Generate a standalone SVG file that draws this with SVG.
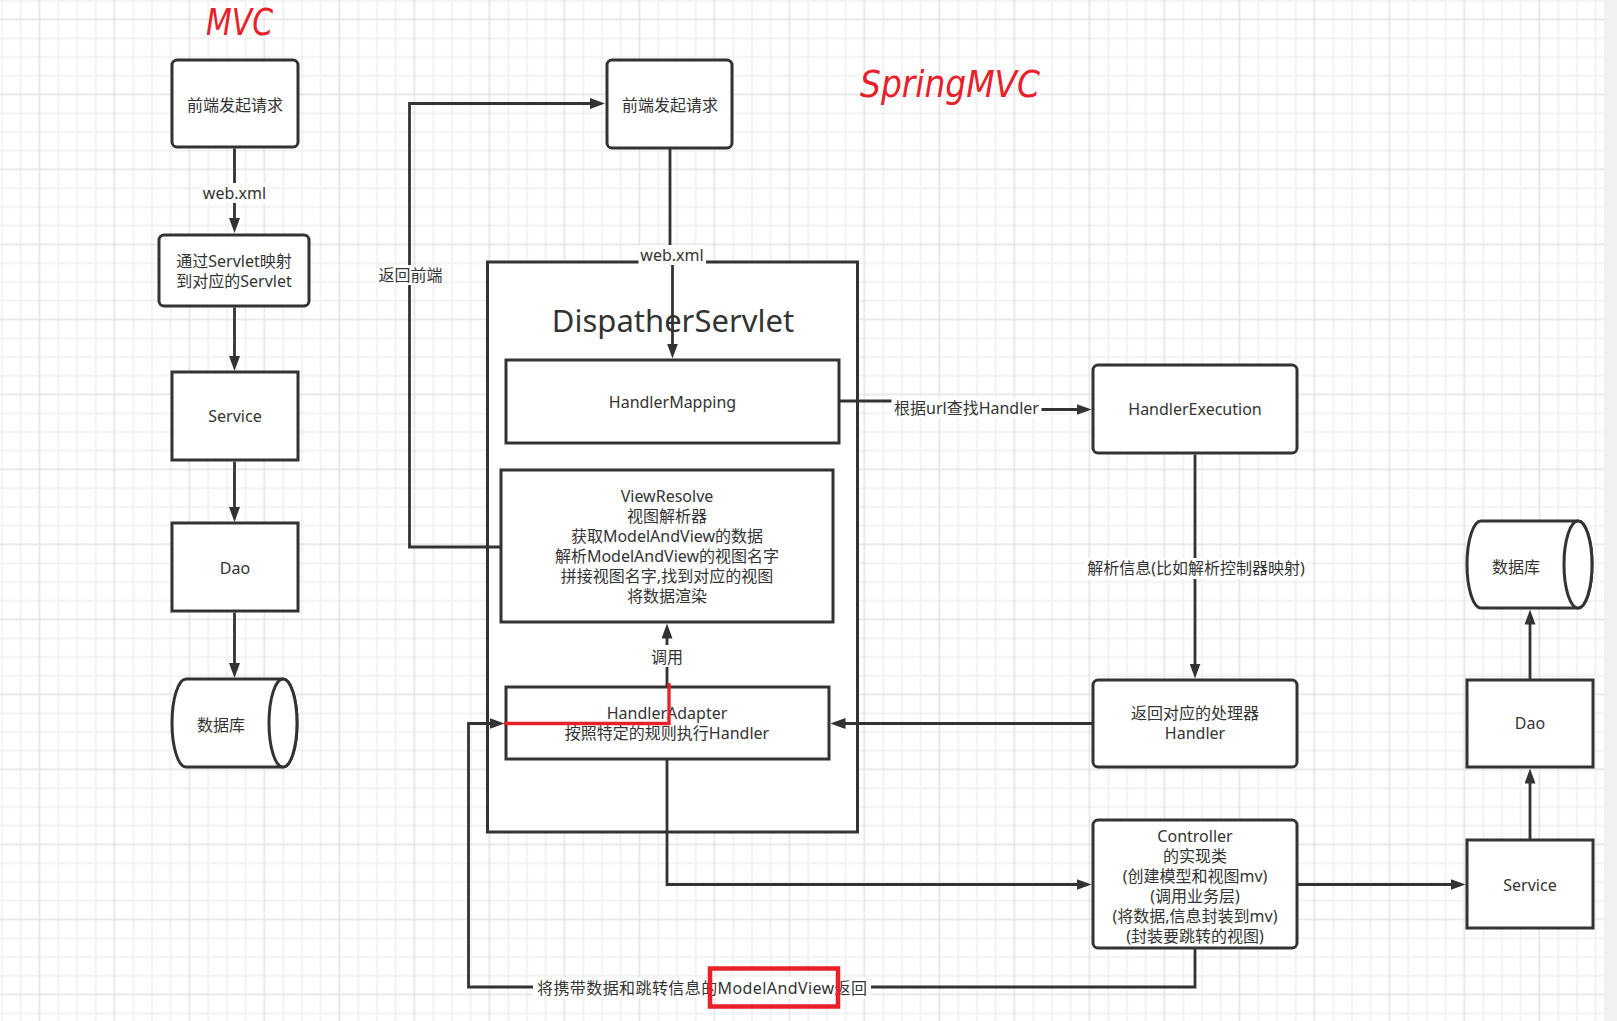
<svg xmlns="http://www.w3.org/2000/svg" width="1617" height="1021" viewBox="0 0 1617 1021">
  <style>
    .t { font-family: 'Noto Sans', 'Noto Sans CJK SC', sans-serif; font-size: 16px; fill: #333; text-anchor: middle; }
    .title { font-family: 'Noto Sans', 'Noto Sans CJK SC', sans-serif; font-size: 31px; fill: #333; text-anchor: middle; }
    .box { fill: #fff; stroke: #333; stroke-width: 3; }
    .edge { fill: none; stroke: #333; stroke-width: 2.8; }
    .lbl { fill: #fff; }
    .hand { font-family: 'DejaVu Sans', sans-serif; font-style: italic; font-weight: 300; fill: #e8202a; }
    .red { fill: none; stroke: #e8202a; }
  </style>
  <defs>
    <pattern id="grid" x="38.5" y="18.5" width="75" height="75" patternUnits="userSpaceOnUse">
      <rect x="18.75" y="0" width="2" height="75" fill="#f1f1f1"/>
      <rect x="37.5" y="0" width="2" height="75" fill="#f1f1f1"/>
      <rect x="56.25" y="0" width="2" height="75" fill="#f1f1f1"/>
      <rect x="0" y="18.75" width="75" height="2" fill="#f1f1f1"/>
      <rect x="0" y="37.5" width="75" height="2" fill="#f1f1f1"/>
      <rect x="0" y="56.25" width="75" height="2" fill="#f1f1f1"/>
      <rect x="0" y="0" width="1.6" height="75" fill="#e4e4e4"/>
      <rect x="0" y="0" width="75" height="1.6" fill="#e4e4e4"/>
    </pattern>
    <marker id="arr" viewBox="0 0 15 11" refX="7" refY="5.5" markerWidth="15" markerHeight="11" markerUnits="userSpaceOnUse" orient="auto">
      <path d="M0,0 L15,5.5 L0,11 z" fill="#333"/>
    </marker>
  </defs>

  <!-- canvas -->
  <rect x="0" y="0" width="1617" height="1021" fill="#fff"/>
  <rect x="0" y="0" width="1604" height="1021" fill="url(#grid)"/>
  <rect x="1604" y="0" width="13" height="1021" fill="#f1f1f1"/>

  <!-- headings -->
  <text class="hand" x="206" y="35" font-size="37" textLength="67" lengthAdjust="spacingAndGlyphs">MVC</text>
  <text class="hand" x="860" y="97" font-size="38" textLength="180" lengthAdjust="spacingAndGlyphs">SpringMVC</text>

  <!-- MVC column -->
  <g id="mvc-request">
    <rect class="box" x="172" y="60" width="126" height="87" rx="5"/>
    <text class="t" x="235" y="110.5">前端发起请求</text>
  </g>
  <g id="mvc-servlet">
    <rect class="box" x="159" y="235" width="150" height="71" rx="5"/>
    <text class="t" x="234" y="267">通过Servlet映射</text>
    <text class="t" x="234" y="287">到对应的Servlet</text>
  </g>
  <g id="mvc-service">
    <rect class="box" x="172" y="372" width="126" height="88"/>
    <text class="t" x="235" y="422">Service</text>
  </g>
  <g id="mvc-dao">
    <rect class="box" x="172" y="523" width="126" height="88"/>
    <text class="t" x="235" y="573.5">Dao</text>
  </g>
  <g id="mvc-db">
    <path class="box" d="M186,679 H283 A14,44 0 0 1 283,767 H186 A14,44 0 0 1 186,679 Z"/>
    <ellipse class="box" cx="283" cy="723" rx="14" ry="44"/>
    <text class="t" x="221" y="730.5">数据库</text>
  </g>

  <!-- SpringMVC -->
  <g id="spring-request">
    <rect class="box" x="607" y="60" width="125" height="88" rx="5"/>
    <text class="t" x="670" y="110.5">前端发起请求</text>
  </g>
  <g id="dispatcher-servlet">
    <rect class="box" x="487.5" y="262" width="370" height="570"/>
    <text class="title" x="673" y="331.5">DispatherServlet</text>
  </g>
  <g id="handler-mapping">
    <rect class="box" x="506" y="360" width="333" height="83"/>
    <text class="t" x="672.5" y="407.5">HandlerMapping</text>
  </g>
  <g id="view-resolver">
    <rect class="box" x="501" y="470" width="332" height="152"/>
    <text class="t" x="667" y="502">ViewResolve</text>
    <text class="t" x="667" y="522">视图解析器</text>
    <text class="t" x="667" y="542">获取ModelAndView的数据</text>
    <text class="t" x="667" y="562">解析ModelAndView的视图名字</text>
    <text class="t" x="667" y="582">拼接视图名字,找到对应的视图</text>
    <text class="t" x="667" y="602">将数据渲染</text>
  </g>
  <g id="handler-adapter">
    <rect class="box" x="506" y="687" width="323" height="72"/>
    <text class="t" x="667" y="718.5">HandlerAdapter</text>
    <text class="t" x="667" y="738.5">按照特定的规则执行Handler</text>
  </g>
  <g id="handler-execution">
    <rect class="box" x="1093" y="365" width="204" height="88" rx="5"/>
    <text class="t" x="1195" y="415">HandlerExecution</text>
  </g>
  <g id="handler-return">
    <rect class="box" x="1093" y="680" width="204" height="87" rx="5"/>
    <text class="t" x="1195" y="718.5">返回对应的处理器</text>
    <text class="t" x="1195" y="738.5">Handler</text>
  </g>
  <g id="controller">
    <rect class="box" x="1093" y="820" width="204" height="128" rx="5"/>
    <text class="t" x="1195" y="841.5">Controller</text>
    <text class="t" x="1195" y="861.5">的实现类</text>
    <text class="t" x="1195" y="881.5">(创建模型和视图mv)</text>
    <text class="t" x="1195" y="901.5">(调用业务层)</text>
    <text class="t" x="1195" y="921.5">(将数据,信息封装到mv)</text>
    <text class="t" x="1195" y="941.5">(封装要跳转的视图)</text>
  </g>
  <g id="spring-service">
    <rect class="box" x="1467" y="840" width="126" height="88"/>
    <text class="t" x="1530" y="890.5">Service</text>
  </g>
  <g id="spring-dao">
    <rect class="box" x="1467" y="680" width="126" height="87"/>
    <text class="t" x="1530" y="729">Dao</text>
  </g>
  <g id="spring-db">
    <path class="box" d="M1481,521 H1578 A14,43.5 0 0 1 1578,608 H1481 A14,43.5 0 0 1 1481,521 Z"/>
    <ellipse class="box" cx="1578" cy="564.5" rx="14" ry="43.5"/>
    <text class="t" x="1516" y="572.5">数据库</text>
  </g>

  <!-- connectors -->
  <g id="connectors">
    <path class="edge" d="M234.5,148.5 V225" marker-end="url(#arr)"/>
    <path class="edge" d="M234.5,307.5 V363" marker-end="url(#arr)"/>
    <path class="edge" d="M234.5,461.5 V514" marker-end="url(#arr)"/>
    <path class="edge" d="M234.5,612.5 V670" marker-end="url(#arr)"/>
    <rect class="lbl" x="201" y="183" width="67" height="20"/>
    <text class="t" x="234.5" y="198.5">web.xml</text>

    <path class="edge" d="M670,149 V250 H672.5 V350.5" marker-end="url(#arr)"/>
    <rect class="lbl" x="638.5" y="245" width="67.5" height="20"/>
    <text class="t" x="672" y="260.5">web.xml</text>

    <path class="edge" d="M501,547 H409.5 V103.5 H597" marker-end="url(#arr)"/>
    <rect class="lbl" x="377" y="265" width="67" height="20"/>
    <text class="t" x="410.5" y="280.5">返回前端</text>

    <path class="edge" d="M839,401 H966 V409.5 H1083.5" marker-end="url(#arr)"/>
    <rect class="lbl" x="891.5" y="398" width="150" height="20"/>
    <text class="t" x="966.5" y="413.5">根据url查找Handler</text>

    <path class="edge" d="M1195,454.5 V670.5" marker-end="url(#arr)"/>
    <rect class="lbl" x="1085" y="558" width="222" height="21"/>
    <text class="t" x="1196" y="574">解析信息(比如解析控制器映射)</text>

    <path class="edge" d="M1093,723.5 H838.5" marker-end="url(#arr)"/>

    <path class="edge" d="M667,687 V631.5" marker-end="url(#arr)"/>
    <rect class="lbl" x="651" y="645" width="32" height="22"/>
    <text class="t" x="667" y="662.5">调用</text>

    <path class="edge" d="M667,759 V884.5 H1083.5" marker-end="url(#arr)"/>
    <path class="edge" d="M1297,884.5 H1457.5" marker-end="url(#arr)"/>
    <path class="edge" d="M1530,840 V776.5" marker-end="url(#arr)"/>
    <path class="edge" d="M1530,680 V617.5" marker-end="url(#arr)"/>

    <path class="edge" d="M1195,948 V987 H468.5 V723.5 H496.5" marker-end="url(#arr)"/>
    <rect class="lbl" x="533" y="977" width="338" height="21"/>
    <text class="t" x="702" y="993.5" textLength="330" lengthAdjust="spacing">将携带数据和跳转信息的ModelAndView返回</text>
  </g>

  <!-- red highlight marks -->
  <path class="red" stroke-width="3.3" d="M504,723.5 H669 V683"/>
  <rect class="red" stroke-width="4.5" x="710" y="968.5" width="128" height="38"/>
</svg>
